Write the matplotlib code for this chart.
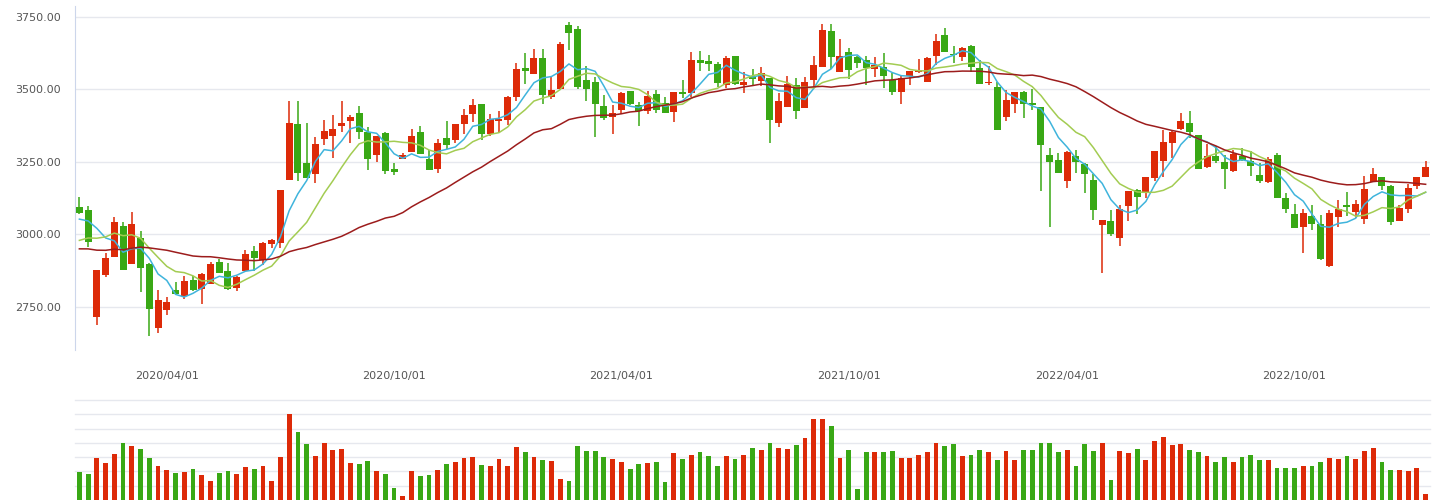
import numpy as np
import pandas as pd
import matplotlib
matplotlib.use('Agg')
import matplotlib.pyplot as plt
from matplotlib.ticker import FuncFormatter

# weekly OHLC
opens = [3094.1, 3083.8, 2716.0, 2860.8, 2922.9, 3028.6, 2898.7, 2987.2, 2897.6, 2678.0,
         2740.1, 2808.0, 2786.1, 2842.4, 2812.6, 2829.8, 2904.5, 2873.5, 2816.0, 2873.5,
         2942.4, 2910.2, 2966.5, 2971.1, 3188.4, 3380.3, 3245.8, 3209.0, 3328.6, 3338.9,
         3373.4, 3390.6, 3418.2, 3352.7, 3274.6, 3349.3, 3225.1, 3260.8, 3283.8, 3352.8,
         3259.7, 3226.3, 3332.1, 3325.2, 3380.3, 3414.8, 3449.3, 3345.9, 3391.8, 3394.1,
         3473.4, 3573.4, 3552.7, 3607.9, 3474.6, 3501.0, 3721.7, 3707.9, 3532.1, 3525.2,
         3442.4, 3405.7, 3429.8, 3494.2, 3445.9, 3426.4, 3483.8, 3452.8, 3422.9, 3490.7,
         3488.4, 3601.0, 3597.6, 3588.4, 3514.8, 3616.0, 3514.8, 3547.0, 3529.8, 3539.0,
         3385.0, 3439.0, 3514.8, 3436.7, 3532.1, 3578.1, 3701.0, 3560.8, 3628.6, 3611.4,
         3601.0, 3571.2, 3576.9, 3533.2, 3491.9, 3545.9, 3560.8, 3526.4, 3614.8, 3687.2,
         3621.7, 3611.3, 3649.2, 3573.4, 3522.8, 3507.9, 3404.4, 3449.3, 3490.6, 3452.7,
         3438.9, 3273.4, 3256.2, 3184.9, 3270.0, 3242.4, 3187.2, 3033.3, 3045.9, 2988.4,
         3098.8, 3152.8, 3141.3, 3195.3, 3252.8, 3316.0, 3364.3, 3383.8, 3342.4, 3233.2,
         3270.0, 3249.3, 3219.4, 3270.0, 3252.8, 3204.5, 3181.5, 3273.4, 3125.1, 3070.0,
         3026.3, 3063.1, 3035.5, 2891.8, 3060.8, 3101.0, 3078.0, 3053.9, 3180.3, 3197.5,
         3166.5, 3047.0, 3088.3, 3167.6, 3197.5]
highs = [3128.6, 3097.6, 2876.9, 2935.5, 3059.6, 3042.4, 3076.9, 3011.4, 2901.0, 2808.0,
         2783.8, 2835.5, 2856.2, 2856.2, 2866.6, 2904.5, 2914.9, 2901.0, 2856.2, 2945.9,
         2960.8, 2973.4, 2983.8, 3152.7, 3459.6, 3459.6, 3383.7, 3335.5, 3394.1, 3411.3,
         3459.6, 3411.3, 3442.4, 3369.9, 3338.9, 3352.7, 3245.8, 3280.3, 3363.1, 3373.4,
         3290.7, 3328.6, 3390.7, 3380.3, 3432.1, 3466.5, 3449.3, 3414.8, 3425.2, 3476.9,
         3590.7, 3625.1, 3639.0, 3639.0, 3545.8, 3663.1, 3732.0, 3718.2, 3580.3, 3542.4,
         3480.4, 3445.9, 3490.7, 3494.2, 3456.2, 3494.2, 3497.6, 3473.5, 3490.7, 3532.1,
         3628.6, 3632.1, 3618.3, 3594.1, 3614.8, 3616.0, 3559.7, 3571.2, 3576.9, 3539.0,
         3487.3, 3545.9, 3539.0, 3542.4, 3614.8, 3725.2, 3725.2, 3673.5, 3642.4, 3614.8,
         3614.8, 3611.4, 3625.2, 3556.2, 3545.9, 3563.1, 3605.6, 3611.4, 3690.6, 3710.0,
         3649.2, 3645.8, 3652.7, 3601.0, 3580.3, 3525.1, 3497.5, 3490.6, 3494.1, 3501.0,
         3438.9, 3297.5, 3280.3, 3287.2, 3290.7, 3245.8, 3207.9, 3049.4, 3083.8, 3101.1,
         3149.3, 3156.2, 3197.6, 3287.3, 3359.7, 3359.7, 3418.3, 3425.2, 3342.4, 3311.4,
         3304.5, 3273.5, 3290.7, 3297.6, 3287.3, 3245.9, 3266.6, 3280.3, 3142.3, 3104.4,
         3087.2, 3101.0, 3066.5, 3083.8, 3118.2, 3145.8, 3118.2, 3201.0, 3228.6, 3197.5,
         3170.0, 3101.0, 3174.5, 3197.5, 3252.7]
lows = [3071.1, 2957.4, 2687.3, 2854.0, 2922.9, 2878.1, 2898.7, 2802.2, 2650.5, 2660.8,
        2722.9, 2795.3, 2778.1, 2804.5, 2759.7, 2829.8, 2867.7, 2809.1, 2805.7, 2873.5,
        2874.6, 2893.0, 2953.9, 2953.9, 3188.4, 3184.9, 3195.3, 3178.0, 3307.9, 3263.1,
        3352.7, 3314.8, 3328.6, 3222.8, 3250.4, 3209.0, 3205.6, 3260.8, 3283.8, 3278.0,
        3222.9, 3212.5, 3295.3, 3316.0, 3345.9, 3387.2, 3326.3, 3339.0, 3352.8, 3376.9,
        3459.6, 3518.3, 3552.7, 3449.3, 3466.5, 3501.0, 3635.5, 3501.0, 3459.6, 3334.0,
        3394.2, 3345.9, 3416.0, 3445.9, 3373.5, 3416.0, 3419.5, 3419.5, 3388.4, 3471.2,
        3474.6, 3564.3, 3564.3, 3508.0, 3504.5, 3514.8, 3488.4, 3514.8, 3510.2, 3314.9,
        3371.2, 3439.0, 3398.8, 3436.7, 3504.5, 3578.1, 3570.0, 3560.8, 3535.5, 3574.6,
        3514.8, 3542.4, 3505.7, 3481.5, 3450.5, 3514.8, 3556.2, 3526.4, 3583.7, 3628.6,
        3590.6, 3597.5, 3560.7, 3519.4, 3514.8, 3360.8, 3390.6, 3418.2, 3402.1, 3428.6,
        3150.4, 3026.3, 3212.5, 3160.8, 3212.5, 3143.5, 3050.5, 2867.8, 2995.3, 2960.9,
        3047.1, 3071.2, 3126.4, 3185.0, 3198.8, 3264.3, 3360.8, 3333.2, 3226.3, 3229.8,
        3247.0, 3157.4, 3216.0, 3253.9, 3202.2, 3178.1, 3178.1, 3126.3, 3074.6, 3022.8,
        2936.6, 3016.0, 2912.5, 2888.4, 3026.3, 3064.2, 3057.3, 3036.6, 3180.3, 3153.9,
        3033.2, 3047.0, 3074.6, 3157.3, 3197.5]
closes = [3074.6, 2974.6, 2876.9, 2918.3, 3042.4, 2878.1, 3035.5, 2885.0, 2743.6, 2773.5,
          2766.6, 2795.3, 2839.0, 2808.0, 2863.1, 2897.6, 2867.7, 2812.6, 2852.8, 2932.1,
          2919.4, 2970.0, 2980.3, 3152.7, 3383.7, 3212.5, 3195.3, 3311.3, 3356.2, 3363.1,
          3383.7, 3404.4, 3352.7, 3260.8, 3338.9, 3219.4, 3215.9, 3273.4, 3338.9, 3278.0,
          3222.9, 3314.8, 3309.1, 3380.3, 3411.4, 3445.8, 3345.9, 3397.6, 3397.6, 3473.4,
          3570.0, 3563.1, 3607.9, 3480.3, 3497.6, 3656.2, 3694.1, 3507.9, 3501.0, 3450.0,
          3402.2, 3418.3, 3487.3, 3449.3, 3426.4, 3476.9, 3429.8, 3419.5, 3490.7, 3485.0,
          3602.2, 3591.9, 3588.4, 3521.7, 3607.9, 3518.3, 3525.2, 3536.7, 3556.2, 3394.2,
          3459.7, 3518.3, 3426.4, 3525.2, 3583.8, 3704.5, 3611.4, 3614.8, 3567.7, 3591.9,
          3572.3, 3583.8, 3547.0, 3491.9, 3539.0, 3563.1, 3566.6, 3607.9, 3666.5, 3628.6,
          3617.1, 3642.3, 3576.8, 3519.4, 3525.1, 3360.8, 3463.0, 3490.6, 3449.3, 3445.8,
          3309.1, 3250.4, 3212.5, 3283.8, 3250.4, 3209.1, 3084.9, 3049.4, 3002.2, 3087.3,
          3149.3, 3129.8, 3197.6, 3287.3, 3318.3, 3352.8, 3390.7, 3353.9, 3226.3, 3270.0,
          3253.9, 3226.3, 3276.9, 3257.4, 3236.7, 3185.0, 3259.7, 3126.3, 3088.3, 3022.8,
          3073.4, 3036.6, 2915.9, 3073.4, 3087.2, 3095.2, 3104.4, 3156.2, 3207.9, 3167.6,
          3043.5, 3090.7, 3159.6, 3197.5, 3232.0]
volumes = [1.96, 1.82, 2.94, 2.59, 3.22, 3.99, 3.78, 3.57, 2.94, 2.38,
           2.10, 1.89, 1.96, 2.17, 1.75, 1.33, 1.89, 2.03, 1.82, 2.31,
           2.17, 2.38, 1.33, 3.01, 6.02, 4.76, 3.92, 3.08, 3.99, 3.50,
           3.57, 2.59, 2.52, 2.73, 2.03, 1.82, 0.84, 0.28, 2.03, 1.68,
           1.75, 2.10, 2.52, 2.66, 2.94, 3.01, 2.45, 2.38, 2.87, 2.38,
           3.71, 3.36, 3.01, 2.80, 2.73, 1.47, 1.33, 3.78, 3.43, 3.43,
           3.01, 2.87, 2.66, 2.17, 2.52, 2.59, 2.66, 1.26, 3.29, 2.87,
           3.15, 3.36, 3.08, 2.38, 3.08, 2.87, 3.15, 3.64,
           3.50, 3.99, 3.64, 3.57, 3.85, 4.34, 5.67, 5.67, 5.18, 2.94,
           3.50, 0.77, 3.36, 3.36, 3.36, 3.43, 2.94, 2.94, 3.15, 3.36,
           3.99, 3.78, 3.92, 3.08, 3.15, 3.50, 3.36, 2.80, 3.43, 2.80,
           3.50, 3.50, 3.99, 3.99, 3.36, 3.50, 2.38, 3.92, 3.43, 3.99,
           1.40, 3.43, 3.29, 3.57, 2.80, 4.13, 4.41, 3.85, 3.92, 3.50,
           3.36, 3.08, 2.66, 3.01, 2.66, 3.01, 3.15, 2.80, 2.80, 2.24,
           2.24, 2.24, 2.38, 2.38, 2.66, 2.94, 2.87, 3.08, 2.87, 3.43,
           3.64, 2.66, 2.10, 2.10, 2.03, 2.24, 0.42]
# closes of the 29 weeks before the first candle (estimated, only used to warm up the MAs)
earlier_closes = [2978.9, 3011.1, 2930.6, 2924.2, 2944.5, 2867.8, 2774.8, 2823.8, 2897.4, 2886.2,
                  2999.6, 3031.2, 3006.5, 2932.2, 2905.2, 2973.7, 2938.1, 2954.9, 2958.2, 2964.2,
                  2891.3, 2885.3, 2872.0, 2912.0, 2967.7, 3004.9, 3005.0, 3083.8, 3092.3]

x_labels = ['2020/04/01', '2020/10/01', '2021/04/01', '2021/10/01', '2022/04/01', '2022/10/01']
x_label_idx = [10, 36, 62, 88, 113, 139]
y_ticks = [2750, 3000, 3250, 3500, 3750]

UP = '#dd2a08'
DOWN = '#39a815'
MA_COLORS = {5: '#3fb4dc', 10: '#a3cc52', 30: '#9c1c1c'}
GRID = '#e6e8ee'

n = len(closes)
assert len(opens) == len(highs) == len(lows) == len(volumes) == n, (len(opens), len(highs), len(lows), len(volumes), n)
x = np.arange(n)
o = np.array(opens)
c = np.array(closes)
colors = np.where(c >= o, UP, DOWN)

all_closes = pd.Series(earlier_closes + closes)

fig = plt.figure(figsize=(14.44, 5.0), dpi=100)
ax = fig.add_axes([75 / 1444, 150 / 500, 1355 / 1444, 344.3 / 500])
axv = fig.add_axes([75 / 1444, 0, 1355 / 1444, 100 / 500])

# candles
ax.vlines(x, lows, highs, colors=colors, linewidth=1.1, zorder=2)
body_h = np.maximum(np.abs(c - o), 1.8)
ax.bar(x, body_h, bottom=np.minimum(o, c), width=0.8, color=colors, linewidth=0, zorder=3)

# moving averages
for w, col in MA_COLORS.items():
    ma = all_closes.rolling(w).mean().to_numpy()[-n:]
    ax.plot(x, ma, color=col, linewidth=1.1, zorder=4)

ax.set_xlim(-0.5, n - 0.5)
ax.set_ylim(2601, 3788)
ax.set_yticks(y_ticks)
ax.yaxis.set_major_formatter(FuncFormatter(lambda v, p: f'{v:.2f}'))
ax.grid(axis='y', color=GRID, linewidth=1)
ax.set_axisbelow(True)
ax.set_xticks(x_label_idx)
ax.set_xticklabels(x_labels)
ax.tick_params(axis='both', length=0, labelsize=8, colors='#555555')
ax.tick_params(axis='y', pad=10)
ax.tick_params(axis='x', pad=15)
for s in ['top', 'right', 'bottom']:
    ax.spines[s].set_visible(False)
ax.spines['left'].set_color('#ccd6eb')

# volume
axv.bar(x, volumes, width=0.55, color=colors, linewidth=0, zorder=3)
for g in range(1, 8):
    axv.axhline(g, color=GRID, linewidth=1, zorder=1, clip_on=False)
axv.set_xlim(-0.5, n - 0.5)
axv.set_ylim(0, 7)
axv.set_xticks([])
axv.set_yticks([])
for s in axv.spines.values():
    s.set_visible(False)

fig.savefig('out.png', dpi=100)
